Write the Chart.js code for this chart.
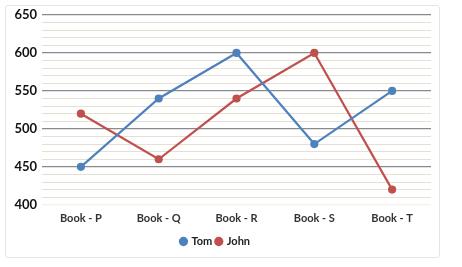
<!DOCTYPE html>
<html>
<head>
<meta charset="utf-8">
<script src="https://cdn.jsdelivr.net/npm/chart.js@4"></script>
<style>
html,body{margin:0;padding:0;background:#fff;}
#wrap{position:relative;width:462px;height:267px;}
#frame{position:absolute;left:5px;top:5px;width:435px;height:253px;border:1px solid #e4e4e4;border-radius:3px;box-sizing:border-box;}
canvas{position:absolute;left:0;top:0;}
</style>
</head>
<body>
<div id="wrap"><div id="frame"></div><canvas id="c" width="462" height="267"></canvas></div>
<script>
const categories = ["Book - P","Book - Q","Book - R","Book - S","Book - T"];
const tom = [450,540,600,480,550];
const john = [520,460,540,600,420];
const yMin = 400, yMax = 650, majorStep = 50, minorStep = 10;

new Chart(document.getElementById('c'), {
  type: 'line',
  data: {
    labels: categories,
    datasets: [
      {label:'Tom', data: tom, borderColor:'#4f81bd', backgroundColor:'#4f81bd', pointBackgroundColor:'#4f81bd', pointBorderColor:'#4f81bd', borderWidth:2.2, pointRadius:3, tension:0, fill:false},
      {label:'John', data: john, borderColor:'#c0504d', backgroundColor:'#c0504d', pointBackgroundColor:'#c0504d', pointBorderColor:'#c0504d', borderWidth:2.2, pointRadius:3, tension:0, fill:false}
    ]
  },
  options: {
    responsive:false,
    animation:false,
    layout:{padding:{left:0,right:31,top:15,bottom:10}},
    plugins:{
      legend:{position:'bottom', labels:{usePointStyle:true, pointStyle:'circle', boxWidth:5, boxHeight:5, padding:4, color:'#222', font:{family:'Lato', size:11, weight:'bold'}}},
      tooltip:{enabled:false}
    },
    scales:{
      x:{
        offset:true,
        grid:{display:false, drawTicks:false},
        border:{display:false},
        ticks:{color:'#333', font:{family:'Lato', size:11, weight:'bold'}, padding:7}
      },
      y:{
        min:yMin, max:yMax,
        afterFit:(s)=>{s.width=42;},
        border:{display:false},
        grid:{
          drawTicks:false,
          color:(ctx)=>{const v=ctx.tick.value; if(v===yMin) return '#f2f2ea'; return v%majorStep===0?'#8a8a8a':'#e4e1d3';},
          lineWidth:(ctx)=>ctx.tick.value%majorStep===0?1.3:1
        },
        ticks:{stepSize:minorStep, autoSkip:false, padding:5, color:'#111', font:{family:'Lato', size:13, weight:'bold'},
          callback:(v)=> v%majorStep===0 ? String(v) : ''}
      }
    }
  }
});
</script>
</body>
</html>
